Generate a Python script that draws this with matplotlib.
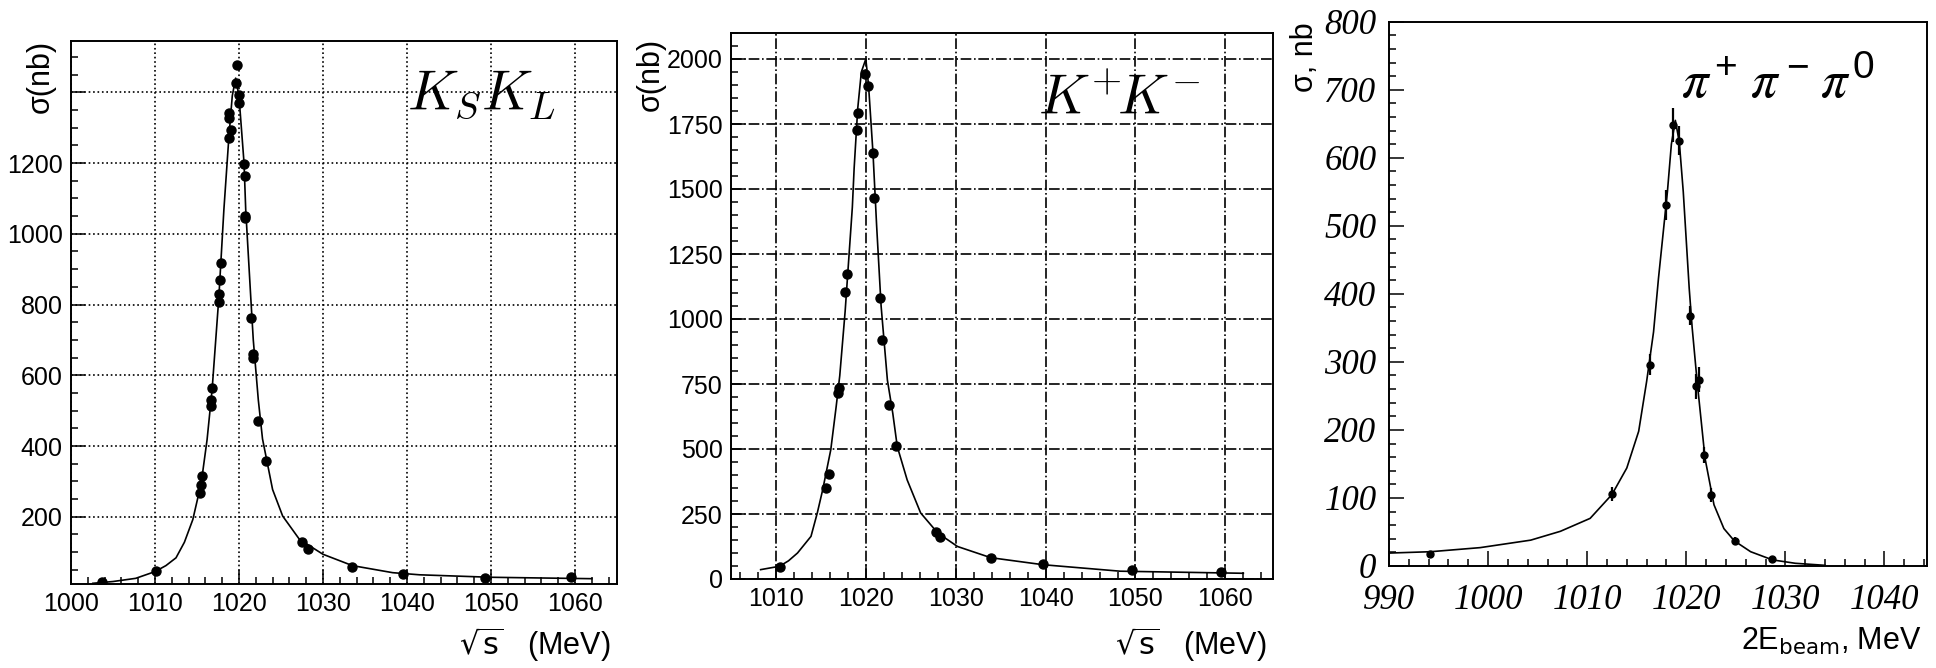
import matplotlib
matplotlib.use("Agg")
import matplotlib.pyplot as plt
from matplotlib.ticker import MultipleLocator

plt.rcParams['font.family'] = ['Liberation Sans', 'DejaVu Sans']

# K_S K_L : measured points and fit curve
ks_x = [1003.7, 1010.1, 1015.4, 1015.5, 1015.65, 1016.65, 1016.65, 1016.8, 1017.6, 1017.6,
        1017.7, 1017.8, 1018.8, 1018.8, 1018.8, 1019.0, 1019.6, 1019.8, 1020.0, 1020.0,
        1020.6, 1020.7, 1020.7, 1020.7, 1021.4, 1021.7, 1021.7, 1022.3, 1023.2, 1027.45,
        1028.2, 1033.5, 1039.5, 1049.3, 1059.5]
ks_y = [16, 46, 268, 291, 315, 514, 529, 564, 807, 830,
        870, 917, 1271, 1328, 1342, 1294, 1426, 1478, 1393, 1369,
        1198, 1162, 1050, 1044, 763, 661, 649, 470, 357, 128,
        110, 58, 37, 28, 30]
ks_fit_x = [1002.6, 1005, 1007.7, 1010, 1011.3, 1012.5, 1013.5, 1014.5, 1015.5, 1016.2,
            1016.8, 1017.6, 1018.2, 1018.8, 1019.2, 1019.6, 1020.0, 1020.6, 1020.8, 1021.4,
            1021.7, 1022.3, 1022.8, 1024.0, 1025.2, 1027.2, 1030.0, 1033.5, 1038.3, 1041.5,
            1050, 1062]
ks_fit_y = [12, 17, 26, 45, 62, 84, 128, 192, 295, 418,
            560, 820, 1068, 1275, 1390, 1440, 1388, 1200, 1068, 820,
            700, 530, 420, 277, 202, 136, 94, 62, 42, 36,
            29, 25]
ks_xticks = [1000, 1010, 1020, 1030, 1040, 1050, 1060]
ks_yticks = [200, 400, 600, 800, 1000, 1200, 1400]
ks_ylabels = ['200', '400', '600', '800', '1000', '1200', '']

# K+ K-
kc_x = [1010.4, 1015.6, 1015.9, 1016.9, 1017.0, 1017.7, 1017.85, 1019.0, 1019.1, 1019.9,
        1020.2, 1020.8, 1020.9, 1021.6, 1021.8, 1022.6, 1023.4, 1027.8, 1028.3, 1033.9,
        1039.7, 1049.6, 1059.5]
kc_y = [45, 350, 405, 715, 735, 1105, 1175, 1727, 1791, 1942,
        1897, 1637, 1467, 1082, 921, 668, 510, 179, 162, 81,
        58, 36, 28]
kc_fit_x = [1008.3, 1010.4, 1011.4, 1012.4, 1013.9, 1014.6, 1015.2, 1016.1, 1016.7, 1017.1,
            1017.7, 1018.5, 1018.7, 1019.1, 1019.5, 1020.0, 1020.3, 1020.8, 1021.2, 1021.7,
            1022.4, 1023.0, 1023.5, 1024.6, 1026.1, 1028.0, 1030.2, 1033.9, 1039.7, 1048.3,
            1062]
kc_fit_y = [36, 49, 70, 100, 164, 254, 343, 497, 663, 782,
            1030, 1430, 1580, 1810, 1950, 2000, 1900, 1637, 1360, 1050,
            765, 637, 509, 381, 254, 177, 125, 82, 55, 30,
            22]
kc_xticks = [1010, 1020, 1030, 1040, 1050, 1060]
kc_yticks = [0, 250, 500, 750, 1000, 1250, 1500, 1750, 2000]

# pi+ pi- pi0
pi_x = [994.1, 1012.5, 1016.3, 1018.0, 1018.7, 1019.3, 1020.4, 1021.0, 1021.3, 1021.8,
        1022.5, 1024.9, 1028.7]
pi_y = [17.5, 106, 296, 530, 648, 625, 368, 264, 274, 163,
        104, 37, 10]
pi_err = [4, 10, 15, 22, 25, 21, 14, 18, 18, 12,
          10, 5, 3]
pi_fit_x = [990, 994.2, 999.2, 1004.3, 1007.3, 1010.3, 1012.5, 1014.0, 1015.2, 1016.0,
            1016.7, 1017.2, 1018.1, 1018.5, 1018.9, 1019.3, 1019.7, 1020.3, 1020.6, 1021.1,
            1021.9, 1022.8, 1023.8, 1024.85, 1026.5, 1028.7, 1031, 1034]
pi_fit_y = [19, 21, 27, 38, 51, 70, 105, 144, 198, 271,
            344, 423, 550, 620, 655, 623, 550, 408, 350, 271,
            158, 90, 55, 37, 21, 9, 4, 1]
pi_xticks = [990, 1000, 1010, 1020, 1030, 1040]
pi_yticks = [0, 100, 200, 300, 400, 500, 600, 700, 800]

W, H = 1936, 668
fig = plt.figure(figsize=(W / 100, H / 100), dpi=100)


def px_axes(l, t, r, b):
    return fig.add_axes([l / W, 1 - b / H, (r - l) / W, (b - t) / H])


def px_text(x, y, s, **kw):
    return fig.text(x / W, 1 - y / H, s, **kw)


def frame(ax):
    for s in ax.spines.values():
        s.set_linewidth(1.4)
    ax.tick_params(which='both', direction='in', top=False, right=False, width=1.1)
    ax.tick_params(which='major', length=10)
    ax.tick_params(which='minor', length=5)


# ---- panel 1
ax1 = px_axes(71, 41, 617, 584)
frame(ax1)
ax1.plot(ks_fit_x, ks_fit_y, color='black', lw=1.2)
ax1.plot(ks_x, ks_y, 'o', color='black', ms=6.5)
ax1.set_xlim(1000, 1065)
ax1.set_ylim(10, 1545)
ax1.set_xticks(ks_xticks)
ax1.set_yticks(ks_yticks)
ax1.set_yticklabels(ks_ylabels)
ax1.xaxis.set_minor_locator(MultipleLocator(2))
ax1.yaxis.set_minor_locator(MultipleLocator(50))
ax1.tick_params(labelsize=18, pad=6)
ax1.grid(True, which='major', linestyle=':', color='black', lw=1.2)
px_text(407, 110, r'$K_SK_L$', fontsize=40, math_fontfamily='cm', va='baseline')
px_text(41, 40, 'σ(nb)', rotation=90, fontsize=22, ha='center', va='top')
px_text(611, 645, r'$\sqrt{\mathsf{s}}$   (MeV)', fontsize=22,
        ha='right', va='center', math_fontfamily='dejavusans')

# ---- panel 2
ax2 = px_axes(731, 33, 1273, 579)
frame(ax2)
ax2.plot(kc_fit_x, kc_fit_y, color='black', lw=1.2)
ax2.plot(kc_x, kc_y, 'o', color='black', ms=6.5)
ax2.set_xlim(1005, 1065.3)
ax2.set_ylim(0, 2100)
ax2.set_xticks(kc_xticks)
ax2.set_yticks(kc_yticks)
ax2.xaxis.set_minor_locator(MultipleLocator(2))
ax2.yaxis.set_minor_locator(MultipleLocator(50))
ax2.tick_params(labelsize=18, pad=6)
ax2.grid(True, which='major', linestyle='-.', color='black', lw=1.2)
px_text(1038, 114, r'$K^{+}\!K^{-}$', fontsize=40, math_fontfamily='cm', va='baseline')
px_text(651, 38, 'σ(nb)', rotation=90, fontsize=22, ha='center', va='top')
px_text(1267, 645, r'$\sqrt{\mathsf{s}}$   (MeV)', fontsize=22,
        ha='right', va='center', math_fontfamily='dejavusans')

# ---- panel 3
ax3 = px_axes(1389, 21.7, 1927, 566)
frame(ax3)
ax3.plot(pi_fit_x, pi_fit_y, color='black', lw=1.2)
ax3.errorbar(pi_x, pi_y, yerr=pi_err, fmt='o', color='black', ms=5, elinewidth=1.6, capsize=0)
ax3.set_xlim(990, 1044.3)
ax3.set_ylim(0, 800)
ax3.set_xticks(pi_xticks)
ax3.set_yticks(pi_yticks)
ax3.xaxis.set_minor_locator(MultipleLocator(2))
ax3.yaxis.set_minor_locator(MultipleLocator(20))
ax3.tick_params(which='major', length=11)
ax3.tick_params(which='minor', length=5)
for lab in ax3.get_xticklabels() + ax3.get_yticklabels():
    lab.set_fontfamily('Liberation Serif')
    lab.set_fontstyle('italic')
    lab.set_fontsize(25)
ax3.tick_params(axis='y', pad=9)
ax3.tick_params(axis='x', pad=13)
# title pieces: large italic pi with large upright superscripts
pi_kw = dict(fontsize=38, math_fontfamily='stix', va='baseline', ha='left')
sup_kw = dict(fontsize=28, family='Liberation Sans', va='baseline', ha='left')
px_text(1681, 97, r'$\pi$', **pi_kw)
px_text(1714, 78, '+', **sup_kw)
px_text(1750, 97, r'$\pi$', **pi_kw)
px_text(1786, 78, '\u2212', **sup_kw)
px_text(1820, 97, r'$\pi$', **pi_kw)
px_text(1852, 78, '0', **sup_kw)
px_text(1305, 22, 'σ, nb', rotation=90, fontsize=22, ha='center', va='top')
px_text(1922, 641, r'2E$_{\mathsf{beam}}$, MeV', fontsize=22,
        ha='right', va='center', math_fontfamily='dejavusans')

fig.savefig('out.png', dpi=100, facecolor='white')
